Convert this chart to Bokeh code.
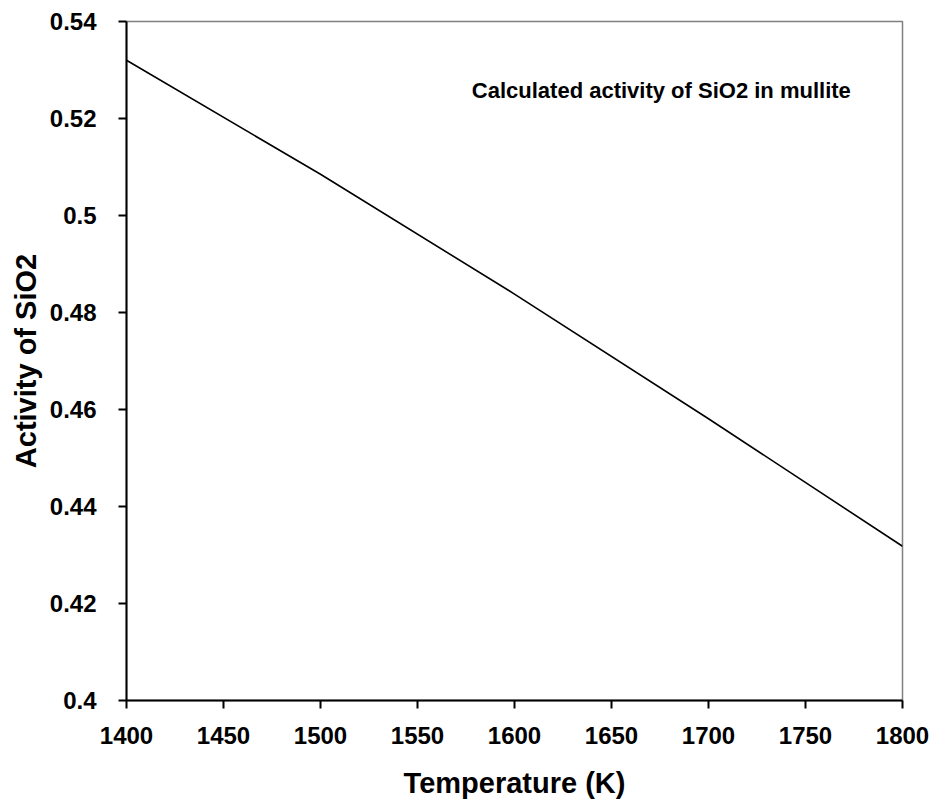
from bokeh.plotting import figure
from bokeh.models import Range1d, FixedTicker, CustomJSTickFormatter, Label
from bokeh.embed import file_html
from bokeh.resources import INLINE

temperature = [1400, 1500, 1600, 1700, 1800]
activity_sio2 = [0.532, 0.5085, 0.4838, 0.4581, 0.4318]
x_ticks = [1400, 1450, 1500, 1550, 1600, 1650, 1700, 1750, 1800]
y_ticks = [0.40, 0.42, 0.44, 0.46, 0.48, 0.50, 0.52, 0.54]
title_text = "Calculated activity of SiO2 in mullite"
x_label = "Temperature (K)"
y_label = "Activity of SiO2"

FONT = "Liberation Sans"

p = figure(width=934, height=803, output_backend="svg", toolbar_location=None,
           x_range=Range1d(1400, 1800), y_range=Range1d(0.4, 0.54),
           min_border_left=126, min_border_right=32, min_border_top=21, min_border_bottom=103)
p.background_fill_color = "white"
p.border_fill_color = "white"
p.grid.visible = False
p.outline_line_color = "#808080"
p.outline_line_width = 1.5

p.line(temperature, activity_sio2, line_color="black", line_width=1.6)

for ax in (p.xaxis[0], p.yaxis[0]):
    ax.axis_line_color = "black"
    ax.axis_line_width = 2
    ax.major_tick_line_color = "black"
    ax.major_tick_line_width = 2
    ax.major_tick_out = 8
    ax.major_tick_in = 0
    ax.minor_tick_line_color = None
    ax.major_label_text_font = FONT
    ax.major_label_text_font_style = "bold"
    ax.major_label_text_font_size = "24px"
    ax.major_label_text_color = "black"
    ax.axis_label_text_font = FONT
    ax.axis_label_text_font_style = "bold"
    ax.axis_label_text_font_size = "29px"
    ax.axis_label_text_color = "black"

p.xaxis[0].ticker = FixedTicker(ticks=x_ticks)
p.yaxis[0].ticker = FixedTicker(ticks=y_ticks)
p.yaxis[0].formatter = CustomJSTickFormatter(code="return String(parseFloat(tick.toFixed(2)));")
p.xaxis[0].axis_label = x_label
p.yaxis[0].axis_label = y_label
p.xaxis[0].major_label_standoff = 18
p.yaxis[0].major_label_standoff = 22
p.xaxis[0].axis_label_standoff = 20
p.yaxis[0].axis_label_standoff = 5

p.add_layout(Label(x=1578.0, y=0.5257, text=title_text, text_font=FONT,
                   text_font_style="bold", text_font_size="22px", text_color="black",
                   text_baseline="alphabetic"))

open("out.html", "w").write(file_html(p, INLINE))
